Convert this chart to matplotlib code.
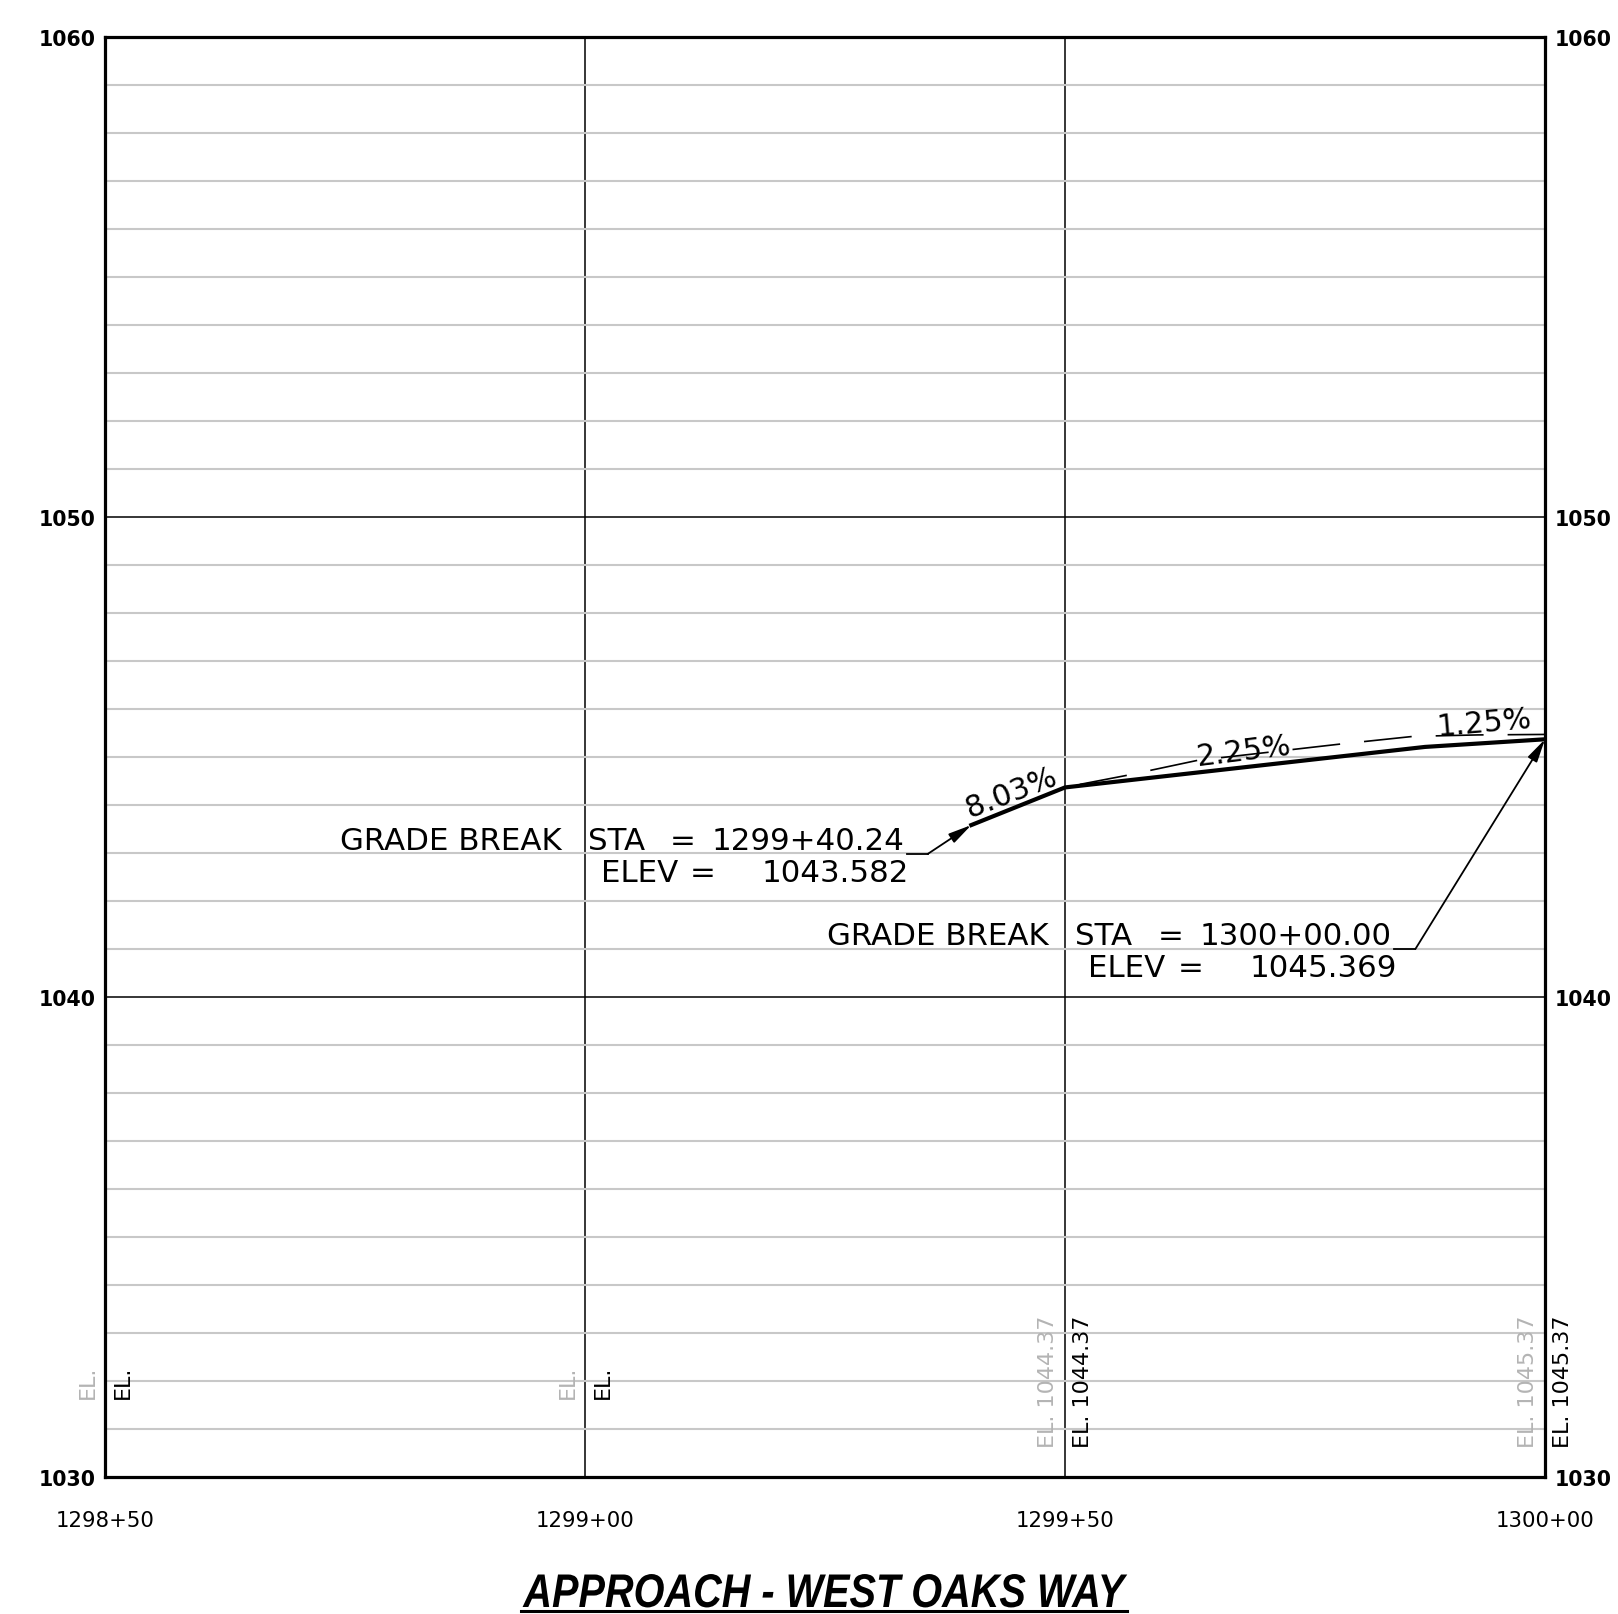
import matplotlib
matplotlib.use("Agg")
import matplotlib.pyplot as plt
from matplotlib.lines import Line2D
from matplotlib.patheffects import AbstractPathEffect
from matplotlib.transforms import Affine2D

plt.rcParams['lines.scale_dashes'] = False

# ---- data ----
station_ticks = [129850, 129900, 129950, 130000]
elev_ticks = [1030, 1040, 1050, 1060]
elev_minor = list(range(1030, 1061))

profile_sta = [129940.24, 129950.00, 129987.50, 130000.00]
profile_elev = [1043.582, 1044.366, 1045.210, 1045.369]

dashed_sta = [129950.0, 129956.5, 129963.8, 129978.7, 129986.3, 129993.0, 130000.0]
dashed_elev = [1044.37, 1044.62, 1044.93, 1045.27, 1045.43, 1045.46, 1045.47]

grade_labels = ["8.03%", "2.25%", "1.25%"]
grade_label_sta = [129944.4, 129968.7, 129993.7]
grade_label_elev = [1044.28, 1045.13, 1045.72]
grade_label_rot = [21, 7, 5]

el_sta = [129850, 129900, 129950, 130000]
el_text = ["EL.", "EL.", "EL. 1044.37", "EL. 1045.37"]
el_y = 1032

note_tip_sta = [129940.24, 130000.00]
note_tip_elev = [1043.582, 1045.369]
note_elbow_sta = [129935.7, 129986.5]
note_elbow_elev = [1042.98, 1041.00]
note_sta_text = ["1299+40.24", "1300+00.00"]
note_elev_text = ["1043.582", "1045.369"]

title = "APPROACH - WEST OAKS WAY"


def sta_fmt(v):
    v = int(round(v))
    return f"{v // 100}+{v % 100:02d}"


class StretchX(AbstractPathEffect):
    """Draw the glyphs narrower (condensed look) about a given display x."""
    def __init__(self, sx, cx):
        super().__init__()
        self.sx = sx
        self.cx = cx

    def draw_path(self, renderer, gc, tpath, affine, rgbFace=None):
        t = affine + Affine2D().translate(-self.cx, 0).scale(self.sx, 1).translate(self.cx, 0)
        renderer.draw_path(gc, tpath, t, rgbFace)


W, H = 1618, 1615
fig = plt.figure(figsize=(W / 100, H / 100), dpi=100)
ax = fig.add_axes([105 / W, 1 - 1478 / H, 1440 / W, 1440 / H])
ax.set_xlim(station_ticks[0], station_ticks[-1])
ax.set_ylim(elev_ticks[0], elev_ticks[-1])

ax.set_xticks(station_ticks)
ax.set_xticklabels([sta_fmt(s) for s in station_ticks])
ax.set_yticks(elev_ticks)
ax.set_yticklabels([str(e) for e in elev_ticks])
ax.set_yticks(elev_minor, minor=True)

ax.grid(which='minor', axis='y', color='#c8c8c8', lw=1.5, zorder=0)
ax.grid(which='major', axis='both', color='black', lw=1.1, zorder=1)
ax.set_axisbelow(True)
for s in ax.spines.values():
    s.set_linewidth(2.3)

ax.tick_params(axis='y', which='both', length=0, labelleft=True, labelright=True)
for t in ax.yaxis.get_major_ticks():
    t.label1.set_fontweight('bold')
    t.label2.set_fontweight('bold')
    t.label1.set_fontsize(14.8)
    t.label2.set_fontsize(14.8)
    t.set_pad(7)
ax.tick_params(axis='x', which='both', length=0, pad=24, labelsize=15.3)

# dashed grade line
ax.plot(dashed_sta, dashed_elev, color='black', lw=1.2,
        linestyle=(41, (34.5, 17.3)), zorder=2)
# proposed profile
ax.plot(profile_sta, profile_elev, color='black', lw=3.0, zorder=3,
        solid_joinstyle='miter')

# grade labels
for txt, x, y, r in zip(grade_labels, grade_label_sta, grade_label_elev, grade_label_rot):
    ax.text(x, y, txt, rotation=r, rotation_mode='anchor', ha='center', va='center',
            fontsize=21.5, color='black', zorder=4)

# EL labels
for s, txt in zip(el_sta, el_text):
    ax.annotate(txt, xy=(s, el_y), xytext=(-17, 0), textcoords='offset pixels',
                rotation=90, ha='center', va='center', fontsize=16,
                color='#b4b4b4', annotation_clip=False)
    ax.annotate(txt, xy=(s, el_y), xytext=(18, 0), textcoords='offset pixels',
                rotation=90, ha='center', va='center', fontsize=16,
                color='black', annotation_clip=False)

# grade break notes
px_per_ft = 1440 / (station_ticks[-1] - station_ticks[0])
for i in range(2):
    ex, ey = note_elbow_sta[i], note_elbow_elev[i]
    tx, ty = note_tip_sta[i], note_tip_elev[i]
    x0 = ex - 21 / px_per_ft
    ax.plot([x0, ex], [ey, ey], color='black', lw=1.3, zorder=4)
    ax.annotate('', xy=(tx, ty), xytext=(ex, ey),
                arrowprops=dict(arrowstyle='-|>,head_length=0.7,head_width=0.16',
                                color='black', lw=1.3, shrinkA=0, shrinkB=0,
                                mutation_scale=20), zorder=4)
    parts = [("GRADE BREAK", -588, 4.5), ("STA", -340, 4.5), ("=", -258, 4.5),
             (note_sta_text[i], -216, 4.5), ("ELEV", -327, -27.5), ("=", -238, -27.5),
             (note_elev_text[i], -166, -27.5)]
    for txt, dx, dy in parts:
        ax.annotate(txt, xy=(ex, ey), xytext=(dx, dy), textcoords='offset pixels',
                    ha='left', va='baseline', fontsize=22.2, color='black',
                    annotation_clip=False)

# title (condensed bold italic look)
title_cx = 824
fig.text(title_cx / W, 1 - 1608 / H, title, ha='center', va='baseline', fontsize=34,
         fontweight='bold', fontstyle='italic',
         family=['Liberation Sans', 'DejaVu Sans'],
         path_effects=[StretchX(0.84, title_cx)])
fig.add_artist(Line2D([521 / W, 1127 / W], [1 - 1611.5 / H, 1 - 1611.5 / H],
                      transform=fig.transFigure, color='black', lw=2.2))

fig.savefig('out.png', dpi=100)
